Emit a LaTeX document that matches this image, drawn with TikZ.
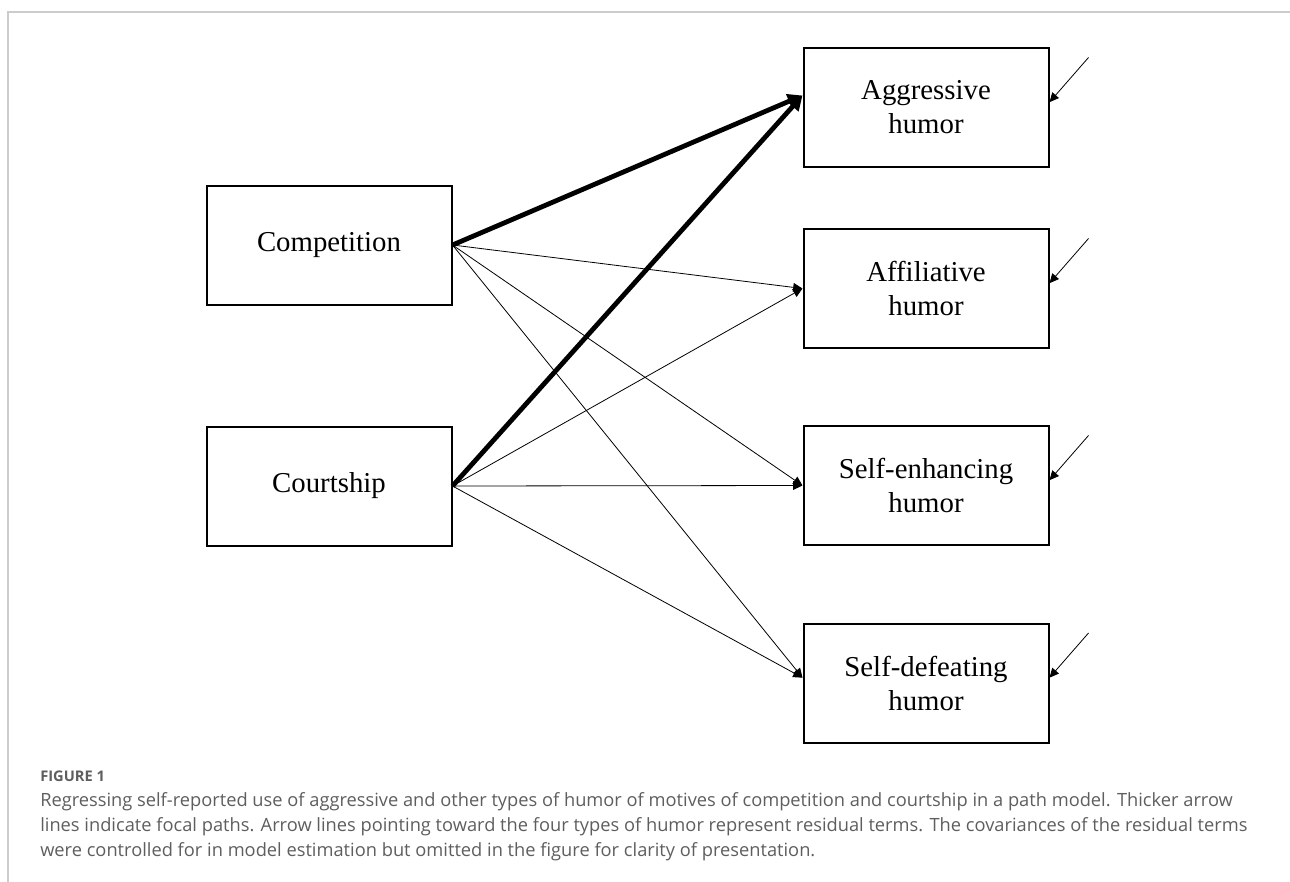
\documentclass[tikz,border=0pt]{standalone}
\usepackage{fontspec}
\setmainfont{Liberation Serif}
\newfontfamily\capfont{Open Sans}
\usepackage{tikz}
\usetikzlibrary{arrows.meta}
\definecolor{framegray}{HTML}{CCCCCC}
\definecolor{capgray}{HTML}{5E5E5E}

\begin{document}
\begin{tikzpicture}[x=0.75pt,y=-0.75pt,
  var/.style={draw,line width=1.5pt,minimum width=183.75pt,minimum height=89.25pt,inner sep=0pt,align=center,font=\fontsize{21.6}{25.5}\selectfont},
  thinpath/.style={line width=0.6pt,-{Triangle[length=7pt,width=6.5pt]}},
  focal/.style={line width=3.6pt,-{Triangle[length=11pt,width=11pt]}},
  captext/.style={anchor=base west,inner sep=0pt,text=capgray,font=\capfont\fontsize{13.7}{16}\selectfont}]
\useasboundingbox (0,0) rectangle (1290,882);
\draw[framegray,line width=1.5pt] (8,882) -- (8,12) -- (1290,12);

\node[var] (comp) at (329,245) {Competition};
\node[var] (court) at (329,486) {Courtship};
\node[var] (aggr) at (926,107.5) {Aggressive\\humor};
\node[var] (aff) at (926,288.5) {Affiliative\\humor};
\node[var] (enh) at (926,485.5) {Self-enhancing\\humor};
\node[var] (defeat) at (926,683) {Self-defeating\\humor};

\draw[focal] (comp.east) -- ([yshift=9pt]aggr.west);
\draw[focal] (court.east) -- ([yshift=9pt]aggr.west);
\draw[thinpath] (comp.east) -- (aff.west); \draw[thinpath] (court.east) -- (aff.west);
\draw[thinpath] (comp.east) -- (enh.west); \draw[thinpath] (court.east) -- (enh.west);
\draw[thinpath] (comp.east) -- ([yshift=4pt]defeat.west); \draw[thinpath] (court.east) -- ([yshift=4pt]defeat.west);

\foreach \b in {aggr,aff,enh,defeat} {
  \coordinate (r-\b) at ([shift={(39,-50)}]\b.east);
  \draw[thinpath] (r-\b) -- ([yshift=4pt]\b.east);
}

\node[anchor=base west,inner sep=0pt,text=capgray,font=\capfont\bfseries\fontsize{11}{13}\selectfont] (fig) at (40,781) {FIGURE 1};
\node[captext] (cap1) at (40,806) {Regressing self-reported use of aggressive and other types of humor of motives of competition and courtship in a path model. Thicker arrow};
\node[captext] (cap2) at (40,831) {lines indicate focal paths. Arrow lines pointing toward the four types of humor represent residual terms. The covariances of the residual terms};
\node[captext] (cap3) at (40,856) {were controlled for in model estimation but omitted in the figure for clarity of presentation.};
\end{tikzpicture}
\end{document}
